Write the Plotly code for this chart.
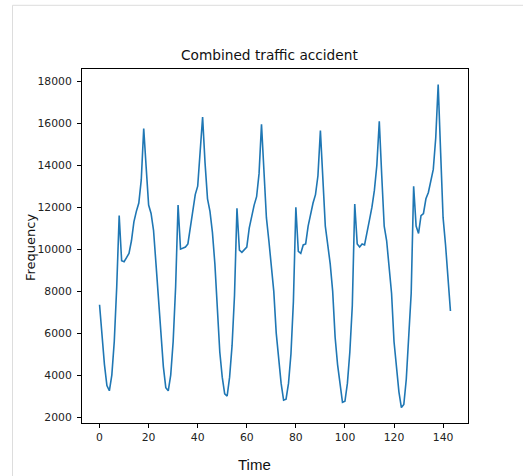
import plotly.graph_objects as go

# Hourly counts (index 0..143)
frequency = [
    7350, 5800, 4500, 3500, 3250, 4000, 5600, 8200, 11600, 9450,
    9400, 9600, 9800, 10400, 11300, 11800, 12200, 13300, 15750, 13900,
    12100, 11700, 10900, 9300, 7500, 5700, 4400, 3400, 3250, 4000,
    5600, 8200, 12100, 10000, 10050, 10100, 10250, 11000, 11900, 12600,
    13000, 14600, 16300, 14100, 12400, 11800, 10800, 9300, 7000, 5100,
    3900, 3100, 3000, 3900, 5400, 7800, 11950, 9950, 9850, 10000,
    10100, 11000, 11600, 12100, 12500, 13600, 15950, 13600, 11500, 10400,
    9300, 8000, 6000, 4600, 3600, 2800, 2850, 3600, 5000, 7500,
    12000, 9900, 9800, 10200, 10250, 11100, 11700, 12200, 12600, 13500,
    15650, 13000, 11100, 10200, 9300, 8000, 5800, 4500, 3500, 2700,
    2750, 3600, 5100, 7300, 12150, 10250, 10100, 10250, 10200, 10900,
    11400, 12000, 12800, 14000, 16100, 13500, 11100, 10400, 9200, 7900,
    5600, 4200, 3200, 2450, 2600, 3800, 5600, 7900, 13000, 11100,
    10750, 11600, 11700, 12400, 12700, 13200, 13800, 15300, 17850, 14600,
    11500, 10200, 8800, 7050,
]
time_idx = list(range(len(frequency)))
x_ticks = [0, 20, 40, 60, 80, 100, 120, 140]
y_ticks = [2000, 4000, 6000, 8000, 10000, 12000, 14000, 16000, 18000]
y_tick_labels = [str(v) for v in y_ticks]
x_tick_labels = [str(v) for v in x_ticks]

W, H = 523, 476
L, R, T, B = 82, 468, 69, 423

def px_x(p):
    return (p - L) / (R - L)

def px_y(p):
    return (B - p) / (B - T)

fig = go.Figure()
fig.add_trace(go.Scatter(
    x=time_idx, y=frequency, mode="lines",
    line=dict(color="#1f77b4", width=1.6),
    showlegend=False, hoverinfo="skip",
))

axis_common = dict(
    showgrid=False, zeroline=False, showline=True, linecolor="black",
    linewidth=1, mirror=True, ticks="outside", ticklen=4, tickwidth=1,
    tickcolor="black",
    tickfont=dict(family="DejaVu Sans", size=10.8, color="#222"),
)

fig.update_layout(
    width=W, height=H,
    margin=dict(l=L, r=W - R, t=T, b=H - B),
    paper_bgcolor="white", plot_bgcolor="white",
    xaxis=dict(range=[-7.15, 150.15], tickvals=x_ticks, ticktext=x_tick_labels, **axis_common),
    yaxis=dict(range=[1714, 18587], tickvals=y_ticks, ticktext=y_tick_labels,
               ticklabelstandoff=3, **axis_common),
    annotations=[
        dict(text="Combined traffic accident", x=px_x(269), y=px_y(55),
             xref="paper", yref="paper", showarrow=False,
             xanchor="center", yanchor="middle",
             font=dict(family="DejaVu Sans", size=13.7, color="#111")),
        dict(text="Frequency", x=px_x(30), y=px_y(248), textangle=-90,
             xref="paper", yref="paper", showarrow=False,
             xanchor="center", yanchor="middle",
             font=dict(family="DejaVu Sans", size=13, color="#111")),
        dict(text="Time", x=px_x(254), y=px_y(465),
             xref="paper", yref="paper", showarrow=False,
             xanchor="center", yanchor="middle",
             font=dict(family="Liberation Sans Narrow, Liberation Sans", size=15, color="#111")),
    ],
    shapes=[
        dict(type="line", xref="paper", yref="paper",
             x0=px_x(12.5), x1=px_x(12.5), y0=px_y(5.3), y1=px_y(476),
             line=dict(color="#dddddd", width=1)),
        dict(type="line", xref="paper", yref="paper",
             x0=px_x(12.5), x1=px_x(523), y0=px_y(5.3), y1=px_y(5.3),
             line=dict(color="#dddddd", width=1)),
    ],
)

fig.write_html("out.html")
